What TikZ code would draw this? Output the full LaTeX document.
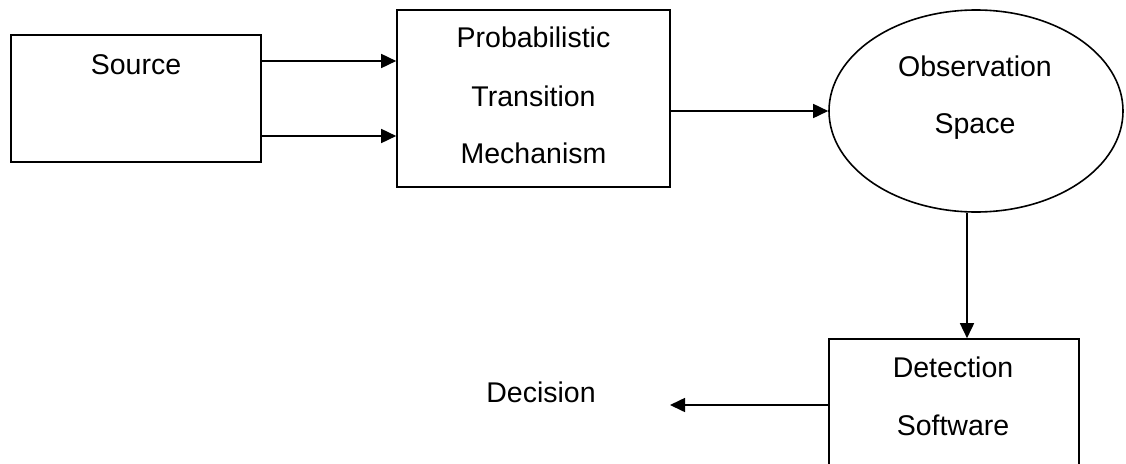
\documentclass[tikz,border=0pt]{standalone}
\usepackage{fontspec}
\setmainfont{Liberation Sans}
\usetikzlibrary{arrows.meta,shapes.geometric}
\tikzset{
  boxnode/.style={draw=black, line width=1.6pt, rectangle, inner sep=0pt},
  ovalnode/.style={draw=black, line width=1.6pt, ellipse, inner sep=0pt},
  txt/.style={anchor=base, inner sep=0pt, font=\fontsize{28.5}{34}\selectfont},
  arr/.style={line width=1.6pt, -{Triangle[length=15pt,width=14pt]}},
}
\begin{document}
\begin{tikzpicture}[x=1pt,y=-1pt]
\path[use as bounding box, clip] (0,0) rectangle (1126,463);
% boxes
\node[boxnode, minimum width=250pt, minimum height=127pt] (src) at (136,98.5) {};
\node[boxnode, minimum width=273pt, minimum height=177pt] (ptm) at (533.5,98.5) {};
\node[ovalnode, minimum width=294pt, minimum height=202pt] (ell) at (976,111) {};
\node[boxnode, minimum width=250pt, minimum height=132pt] (det) at (954,405) {};
% texts
\node[txt] (srct) at (136,74) {Source};
\node[txt] (ptm1) at (533.5,47) {Probabilistic};
\node[txt] (ptm2) at (533.5,106) {Transition};
\node[txt] (ptm3) at (533.5,163) {Mechanism};
\node[txt] (ell1) at (975,76) {Observation};
\node[txt] (ell2) at (975,133) {Space};
\node[txt] (det1) at (953,377) {Detection};
\node[txt] (det2) at (953,435) {Software};
\node[txt] (dec) at (541,402) {Decision};
\coordinate (decend) at (670,405);
% connectors
\draw[arr] ([yshift=37.5pt]src.east) -- ([yshift=37.5pt]src.east -| ptm.west);
\draw[arr] ([yshift=-37.5pt]src.east) -- ([yshift=-37.5pt]src.east -| ptm.west);
\draw[arr] (ell.west -| ptm.east) -- (ell.west);
\draw[arr] ([xshift=-9pt]ell.south) -- ([xshift=-9pt]ell.south |- det.north);
\draw[arr] (det.west) -- (decend);
\end{tikzpicture}
\end{document}
